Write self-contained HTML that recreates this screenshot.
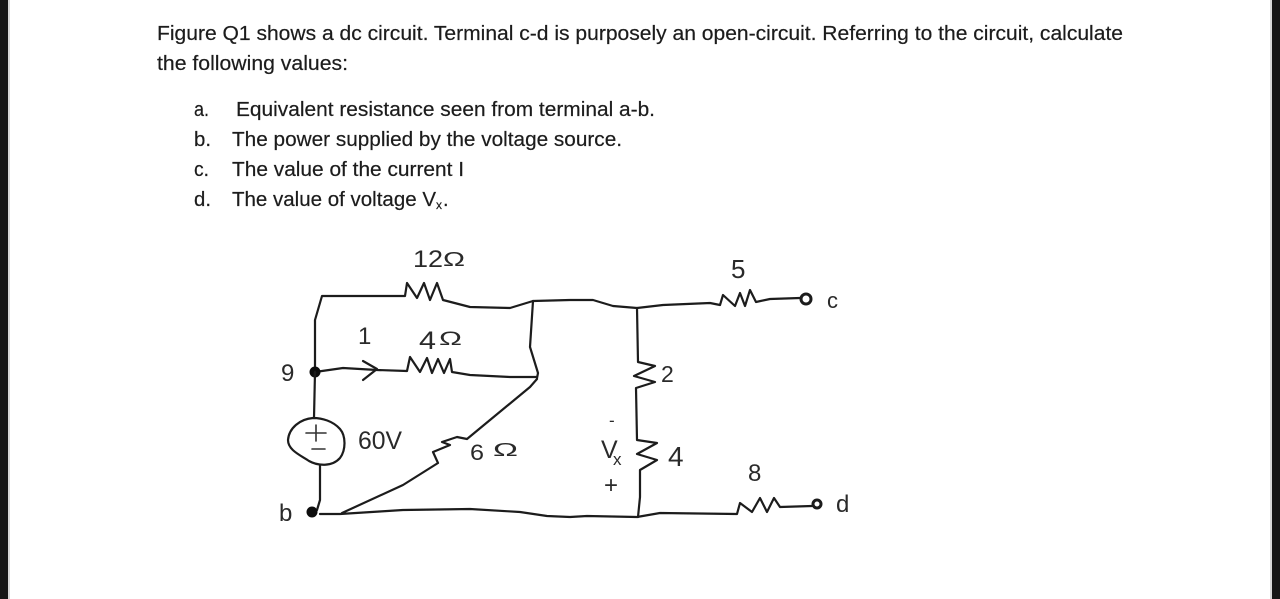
<!DOCTYPE html>
<html><head><meta charset="utf-8"><style>
html,body{margin:0;padding:0;background:#fff;width:1280px;height:599px;overflow:hidden}
svg{display:block}
.t{font-family:"Liberation Sans",sans-serif;font-size:20px;fill:#1d1d1d;stroke:#1d1d1d;stroke-width:.2}
.h{font-family:"Liberation Sans",sans-serif;fill:#2a2a2a}
.w{fill:none;stroke:#1c1c1c;stroke-width:2.2;stroke-linejoin:round;stroke-linecap:round}
.s{fill:none;stroke:#333;stroke-width:1.6;stroke-linecap:round}
</style></head><body>
<svg width="1280" height="599" viewBox="0 0 1280 599" xmlns="http://www.w3.org/2000/svg">
<defs><filter id="b" x="-5%" y="-5%" width="110%" height="110%"><feGaussianBlur stdDeviation="0.35"/></filter></defs>
<rect width="1280" height="599" fill="#fff"/>
<rect x="0" y="0" width="8" height="599" fill="#161616"/>
<rect x="8" y="0" width="2" height="599" fill="#d8d8d8"/>
<rect x="1272" y="0" width="8" height="599" fill="#161616"/>
<rect x="1270" y="0" width="2" height="599" fill="#d8d8d8"/>

<g filter="url(#b)">
<text class="t" x="157" y="40" textLength="966" lengthAdjust="spacingAndGlyphs">Figure Q1 shows a dc circuit.  Terminal c-d is purposely an open-circuit.  Referring to the circuit, calculate</text>
<text class="t" x="157" y="70" textLength="191" lengthAdjust="spacingAndGlyphs">the following values:</text>
<text class="t" x="194" y="116" textLength="15" lengthAdjust="spacingAndGlyphs">a.</text>
<text class="t" x="236" y="116" textLength="419" lengthAdjust="spacingAndGlyphs">Equivalent resistance seen from terminal a-b.</text>
<text class="t" x="194" y="146" textLength="17" lengthAdjust="spacingAndGlyphs">b.</text>
<text class="t" x="232" y="146" textLength="390" lengthAdjust="spacingAndGlyphs">The power supplied by the voltage source.</text>
<text class="t" x="194" y="176" textLength="15" lengthAdjust="spacingAndGlyphs">c.</text>
<text class="t" x="232" y="176" textLength="232" lengthAdjust="spacingAndGlyphs">The value of the current I</text>
<text class="t" x="194" y="206" textLength="17" lengthAdjust="spacingAndGlyphs">d.</text>
<text class="t" x="232" y="206" textLength="204" lengthAdjust="spacingAndGlyphs">The value of voltage V</text>
<text class="t" x="436" y="209" style="font-size:12px">x</text>
<text class="t" x="443" y="206">.</text>

<!-- top branch with 12 ohm -->
<path class="w" d="M315 372L315 320L322 296L405 296L407 283L417 298L424 283L430 300L437 283L443 300L470 307L510 308L533 301L570 300L593 300L613 306L637 308L663 305L710 303L720 305L723 295L735 306L740 293L745 306L750 290L756 302L770 299L800 298"/>
<circle cx="806" cy="299" r="5" fill="#fff" stroke="#1c1c1c" stroke-width="3"/>
<!-- 4 ohm branch -->
<path class="w" d="M315 372L343 368L377 370L407 371L410 357L420 372L427 358L432 373L438 359L444 373L450 359L452 372L470 375L510 377L537 377"/>
<path class="w" d="M363 361L377 369L363 380"/>
<circle cx="315" cy="372" r="5.5" fill="#111"/>
<!-- shorting wire -->
<path class="w" d="M533 301L530 347L538 373L537 378" stroke-width="1.8"/>
<!-- diagonal with 6 ohm -->
<path class="w" d="M537 379L530 387L467 439L457 437L442 442L450 445L433 452L438 463L403 485L342 513"/>
<!-- source -->
<path class="w" d="M315 372L314 418"/>
<path class="w" d="M313 418C300 419 289 428 288 440C288 450 300 455 309 461C318 466 332 467 340 458C346 450 346 436 340 429C333 421 322 418 313 418Z"/>
<path class="s" d="M306 433L326 433M316 425L316 441M312 449L325 449"/>
<path class="w" d="M320 465L320 500L317 510"/>
<circle cx="312" cy="512" r="5.5" fill="#111"/>
<!-- bottom wire -->
<path class="w" d="M320 514L340 514L403 510L470 509L520 512L547 516L570 517L587 516L637 517L660 513L737 514L740 503L752 512L760 498L767 512L774 498L780 507L812 506"/>
<circle cx="817" cy="504" r="4" fill="#fff" stroke="#1c1c1c" stroke-width="3"/>
<!-- right vertical -->
<path class="w" d="M637 308L638 362L655 366L634 376L655 382L636 388L637 440L657 443L637 454L657 460L640 470L640 497L638 517"/>

<!-- labels -->
<text class="h" x="413" y="267" font-size="24" textLength="30" lengthAdjust="spacingAndGlyphs">12</text>
<text class="h" x="443" y="266" font-size="20" textLength="22" lengthAdjust="spacingAndGlyphs">Ω</text>
<text class="h" x="358" y="344" font-size="24">1</text>
<text class="h" x="419" y="349" font-size="25" textLength="17" lengthAdjust="spacingAndGlyphs">4</text>
<text class="h" x="439" y="345" font-size="19" textLength="23" lengthAdjust="spacingAndGlyphs">Ω</text>
<text class="h" x="281" y="381" font-size="24">9</text>
<text class="h" x="279" y="521" font-size="24">b</text>
<text class="h" x="358" y="449" font-size="25" textLength="44" lengthAdjust="spacingAndGlyphs">60V</text>
<text class="h" x="470" y="460" font-size="22" textLength="14" lengthAdjust="spacingAndGlyphs">6</text>
<text class="h" x="493" y="456" font-size="18" textLength="25" lengthAdjust="spacingAndGlyphs">Ω</text>
<text class="h" x="731" y="278" font-size="26">5</text>
<text class="h" x="827" y="308" font-size="22">c</text>
<text class="h" x="661" y="382" font-size="23">2</text>
<text class="h" x="601" y="458" font-size="25">V</text>
<text class="h" x="613" y="465" font-size="17">x</text>
<text class="h" x="609" y="426" font-size="17">-</text>
<text class="h" x="604" y="493" font-size="24">+</text>
<text class="h" x="668" y="466" font-size="28">4</text>
<text class="h" x="748" y="481" font-size="24">8</text>
<text class="h" x="836" y="512" font-size="24">d</text>
</g>
</svg>
</body></html>
